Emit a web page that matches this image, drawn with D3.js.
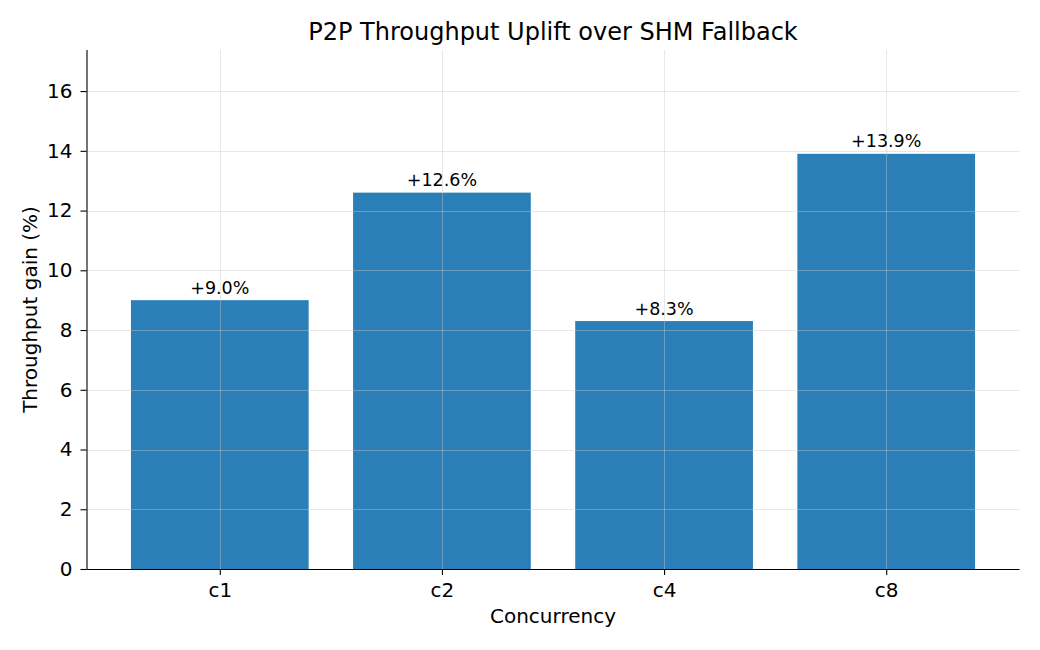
<!DOCTYPE html>
<html>
<head>
<meta charset="utf-8">
<script src="https://cdn.jsdelivr.net/npm/d3@7"></script>
<style>
  body { margin: 0; background: #fff; }
  svg { font-family: "DejaVu Sans", sans-serif; }
</style>
</head>
<body>
<svg></svg>
<script>
//chart data
let categories = ['c1', 'c2', 'c4', 'c8'];
let gains = [9.0, 12.6, 8.3, 13.9];
let yTicks = [0, 2, 4, 6, 8, 10, 12, 14, 16];

let svg = d3.select('svg');

//svg dimensions and plot area edges
let width = 1040;
let height = 650;
let plotLeft = 86.5, plotRight = 1019.5, plotTop = 50, plotBottom = 569;

let xScale;
let yScale;

let drawCanvas = () => {
    svg.attr('width', width)
    svg.attr('height', height)
};

//matplotlib-like limits: x from -0.6 to n-0.4, y up to max*1.25
let generateScales = () => {
    xScale = d3.scaleLinear()
        .domain([-0.6, categories.length - 0.4])
        .range([plotLeft, plotRight]);
    yScale = d3.scaleLinear()
        .domain([0, d3.max(gains) * 1.25])
        .range([plotBottom, plotTop]);
};

let drawBars = () => {
    svg.append('g')
        .selectAll('rect')
        .data(gains)
        .enter()
        .append('rect')
        .attr('x', (d, i) => xScale(i - 0.4))
        .attr('width', xScale(0.8) - xScale(0))
        .attr('y', d => yScale(d))
        .attr('height', d => yScale(0) - yScale(d))
        .attr('fill', '#2a7fb8');
};

//grid sits on top of the bars
let drawGrid = () => {
    let g = svg.append('g')
        .attr('stroke', '#c8c8c8')
        .attr('stroke-opacity', 0.42)
        .attr('stroke-width', 1);
    g.selectAll('.hg')
        .data(yTicks)
        .enter()
        .append('line')
        .attr('x1', plotLeft).attr('x2', plotRight)
        .attr('y1', d => Math.round(yScale(d)) + 0.5)
        .attr('y2', d => Math.round(yScale(d)) + 0.5);
    g.selectAll('.vg')
        .data(categories)
        .enter()
        .append('line')
        .attr('y1', plotTop).attr('y2', plotBottom)
        .attr('x1', (d, i) => Math.round(xScale(i)) + 0.5)
        .attr('x2', (d, i) => Math.round(xScale(i)) + 0.5);
};

let drawLabels = () => {
    svg.append('g')
        .selectAll('text')
        .data(gains)
        .enter()
        .append('text')
        .attr('x', (d, i) => xScale(i))
        .attr('y', d => yScale(d) - 6.5)
        .attr('text-anchor', 'middle')
        .attr('font-size', '17.5px')
        .text(d => '+' + d.toFixed(1) + '%');
};

let generateAxes = () => {
    let xAxis = d3.axisBottom(xScale)
        .tickValues(d3.range(categories.length))
        .tickFormat(i => categories[i])
        .tickSize(6)
        .tickPadding(8);
    let yAxis = d3.axisLeft(yScale)
        .tickValues(yTicks)
        .tickSize(6)
        .tickPadding(8);

    let xg = svg.append('g')
        .call(xAxis)
        .attr('transform', 'translate(0, ' + plotBottom + ')');
    let yg = svg.append('g')
        .call(yAxis)
        .attr('transform', 'translate(' + plotLeft + ', 0)');

    [xg, yg].forEach(g => {
        g.attr('font-family', null).attr('font-size', '20px');
        g.select('.domain').attr('stroke', '#000').attr('stroke-width', 1.1);
        g.selectAll('.tick line').attr('stroke', '#000').attr('stroke-width', 1.1);
        g.selectAll('.tick text').attr('fill', '#000');
    });
    //drop the outer tick caps of the domain path
    xg.select('.domain').attr('d', 'M' + plotLeft + ',0.5H' + plotRight);
    yg.select('.domain').attr('d', 'M0.5,' + plotTop + 'V' + plotBottom);
};

let drawTitles = () => {
    svg.append('text')
        .attr('x', (plotLeft + plotRight) / 2)
        .attr('y', 40)
        .attr('text-anchor', 'middle')
        .attr('font-size', '24px')
        .text('P2P Throughput Uplift over SHM Fallback');
    svg.append('text')
        .attr('x', (plotLeft + plotRight) / 2)
        .attr('y', 623)
        .attr('text-anchor', 'middle')
        .attr('font-size', '20px')
        .text('Concurrency');
    svg.append('text')
        .attr('transform', 'translate(37, ' + (plotTop + plotBottom) / 2 + ') rotate(-90)')
        .attr('text-anchor', 'middle')
        .attr('font-size', '20px')
        .text('Throughput gain (%)');
};

drawCanvas();
generateScales();
drawBars();
drawGrid();
drawLabels();
generateAxes();
drawTitles();
</script>
</body>
</html>
